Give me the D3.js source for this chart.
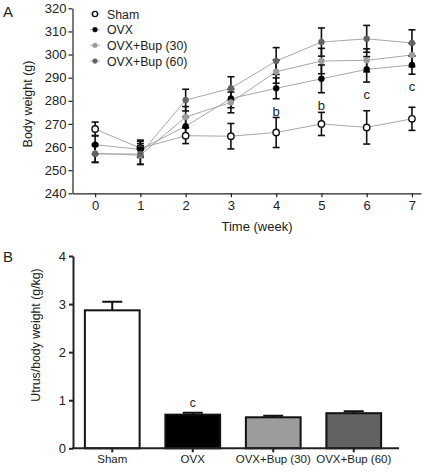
<!DOCTYPE html>
<html>
<head>
<meta charset="utf-8">
<script src="https://cdn.jsdelivr.net/npm/d3@7"></script>
<style>
  body { margin: 0; background: #fff; }
  svg text { font-family: "Liberation Sans", Arial, sans-serif; fill: #222; }
</style>
</head>
<body>
<svg id="chart" width="425" height="473"></svg>
<script>
// panel A : body weight over time
var weeks = [0, 1, 2, 3, 4, 5, 6, 7];
var groups = ["Sham", "OVX", "OVX+Bup (30)", "OVX+Bup (60)"];
var shamMean = [267.8, 259.5, 264.9, 264.7, 266.3, 270.0, 268.5, 272.2];
var shamErr  = [3.0, 3.5, 3.4, 5.5, 6.5, 5.0, 7.2, 5.0];
var ovxMean  = [261.0, 259.0, 269.0, 281.0, 285.4, 289.5, 293.6, 295.5];
var ovxErr   = [4.0, 3.5, 4.0, 4.0, 4.5, 6.0, 5.5, 4.0];
var bup30Mean = [257.3, 256.5, 273.0, 279.3, 292.6, 297.2, 297.5, 299.8];
var bup30Err  = [4.0, 4.0, 4.5, 4.5, 5.0, 5.5, 5.0, 5.0];
var bup60Mean = [257.0, 257.0, 280.3, 285.4, 297.2, 305.4, 306.8, 305.0];
var bup60Err  = [3.5, 4.5, 4.7, 5.0, 5.8, 6.1, 5.8, 5.7];
var weightTicks = [240, 250, 260, 270, 280, 290, 300, 310, 320];
// significance letters (week, label)
var sigWeeks = [4, 5, 6, 7];
var sigLabels = ["b", "b", "c", "c"];

// panel B : uterus / body weight
var uterusMean = [2.87, 0.70, 0.645, 0.73];
var uterusErr  = [0.18, 0.04, 0.03, 0.04];
var uterusTicks = [0, 1, 2, 3, 4];

var fills = ["#fff", "#000", "#9c9c9c", "#626262"];

var svg = d3.select("#chart");

function styleAxis(g, w) {
  g.select(".domain").attr("stroke", "#222").attr("stroke-width", w);
  g.selectAll(".tick line").attr("stroke", "#222").attr("stroke-width", w);
  g.selectAll("text").attr("font-size", 13).style("fill", "#222");
}

//---------- A ----------
var xA = d3.scaleLinear().domain([-0.5, 7.2]).range([72.5, 421]);
var yA = d3.scaleLinear().domain([240, 320]).range([193.3, 8.3]);

var gA = svg.append("g");
gA.append("g").attr("transform", "translate(0,193.3)")
  .call(d3.axisBottom(xA).tickValues(weeks).tickSize(4).tickPadding(3).tickSizeOuter(0))
  .call(styleAxis, 1.2);
gA.append("g").attr("transform", "translate(72.5,0)")
  .call(d3.axisLeft(yA).tickValues(weightTicks).tickSize(4).tickPadding(2).tickSizeOuter(0))
  .call(styleAxis, 1.2);

svg.append("text").attr("x", 257).attr("y", 231).attr("text-anchor", "middle").attr("font-size", 13).text("Time (week)");
svg.append("text").attr("transform", "translate(32,104) rotate(-90)").attr("text-anchor", "middle").attr("font-size", 12.5).text("Body weight (g)");
svg.append("text").attr("x", 3).attr("y", 17).attr("font-size", 15).text("A");

var series = [
  {name: groups[0], mean: shamMean, err: shamErr},
  {name: groups[1], mean: ovxMean, err: ovxErr},
  {name: groups[2], mean: bup30Mean, err: bup30Err},
  {name: groups[3], mean: bup60Mean, err: bup60Err}
];

var line = d3.line().x(function(d, i){ return xA(weeks[i]); }).y(function(d){ return yA(d); });

// lines
series.forEach(function(s){
  gA.append("path").attr("d", line(s.mean)).attr("fill", "none").attr("stroke", "#a8a8a8").attr("stroke-width", 1);
});
// error bars
series.forEach(function(s){
  var eb = gA.append("g").attr("stroke", "#111").attr("stroke-width", 1.6);
  s.mean.forEach(function(m, i){
    var x = xA(weeks[i]);
    eb.append("line").attr("x1", x).attr("x2", x).attr("y1", yA(m - s.err[i])).attr("y2", yA(m + s.err[i]));
    eb.append("line").attr("x1", x - 3.5).attr("x2", x + 3.5).attr("y1", yA(m + s.err[i])).attr("y2", yA(m + s.err[i]));
    eb.append("line").attr("x1", x - 3.5).attr("x2", x + 3.5).attr("y1", yA(m - s.err[i])).attr("y2", yA(m - s.err[i]));
  });
});
// markers
series.forEach(function(s, k){
  gA.selectAll(null).data(s.mean).enter().append("circle")
    .attr("cx", function(d, i){ return xA(weeks[i]); })
    .attr("cy", function(d){ return yA(d); })
    .attr("r", k == 0 ? 3.2 : 3)
    .attr("fill", fills[k])
    .attr("stroke", k == 0 ? "#111" : fills[k])
    .attr("stroke-width", k == 0 ? 1.4 : 0.5);
});
// b / c letters under OVX
gA.selectAll(null).data(sigWeeks).enter().append("text")
  .attr("x", function(d){ return xA(d); })
  .attr("y", function(d){ return yA(ovxMean[d] - ovxErr[d]) + 17; })
  .attr("text-anchor", "middle").attr("font-size", 13)
  .style("fill", "#222")
  .text(function(d, i){ return sigLabels[i]; });

// legend
var leg = svg.append("g");
groups.forEach(function(g, k){
  var y = 14 + k * 15.7;
  leg.append("line").attr("x1", 90).attr("x2", 100).attr("y1", y).attr("y2", y).attr("stroke", "#bbb").attr("stroke-width", 1);
  leg.append("circle").attr("cx", 95).attr("cy", y).attr("r", k == 0 ? 2.6 : 2.4)
    .attr("fill", fills[k]).attr("stroke", k == 0 ? "#111" : fills[k]).attr("stroke-width", k == 0 ? 1.4 : 0.5);
  leg.append("text").attr("x", 107).attr("y", y + 4.5).attr("font-size", 12.3).text(g);
});

//---------- B ----------
var xB = d3.scaleBand().domain(groups).range([72, 394]).paddingInner(0.32).paddingOuter(0.16);
var yB = d3.scaleLinear().domain([0, 4]).range([448.3, 256]);

var gB = svg.append("g");
// error bars (only upper)
gB.selectAll(null).data(uterusMean).enter().append("path")
  .attr("d", function(d, i){
    var c = xB(groups[i]) + xB.bandwidth() / 2, t = yB(d + uterusErr[i]);
    return "M" + c + "," + yB(d) + "V" + t + "M" + (c - 10) + "," + t + "H" + (c + 10);
  })
  .attr("fill", "none").attr("stroke", "#111").attr("stroke-width", 2);
gB.selectAll(null).data(uterusMean).enter().append("rect")
  .attr("x", function(d, i){ return xB(groups[i]); })
  .attr("y", function(d){ return yB(d); })
  .attr("width", xB.bandwidth())
  .attr("height", function(d){ return yB(0) - yB(d); })
  .attr("fill", function(d, i){ return fills[i]; })
  .attr("stroke", "#111").attr("stroke-width", 2);

gB.append("g").attr("transform", "translate(0,448.3)")
  .call(d3.axisBottom(xB).tickSize(4).tickPadding(3).tickSizeOuter(0))
  .call(styleAxis, 2)
  .call(function(g){
    g.select(".domain").attr("d", "M72,0H399");
    g.selectAll("text").attr("font-size", 11.5);
  });
gB.append("g").attr("transform", "translate(73,0)")
  .call(d3.axisLeft(yB).tickValues(uterusTicks).tickFormat(d3.format("d")).tickSize(4).tickPadding(3).tickSizeOuter(0))
  .call(styleAxis, 2);

gB.append("text").attr("x", xB(groups[1]) + xB.bandwidth() / 2).attr("y", yB(uterusMean[1] + uterusErr[1]) - 6)
  .attr("text-anchor", "middle").attr("font-size", 12).style("fill", "#222").text("c");
svg.append("text").attr("transform", "translate(40,335) rotate(-90)").attr("text-anchor", "middle").attr("font-size", 12.3).text("Utrus/body weight (g/kg)");
svg.append("text").attr("x", 3).attr("y", 262).attr("font-size", 15).text("B");
</script>
</body>
</html>
